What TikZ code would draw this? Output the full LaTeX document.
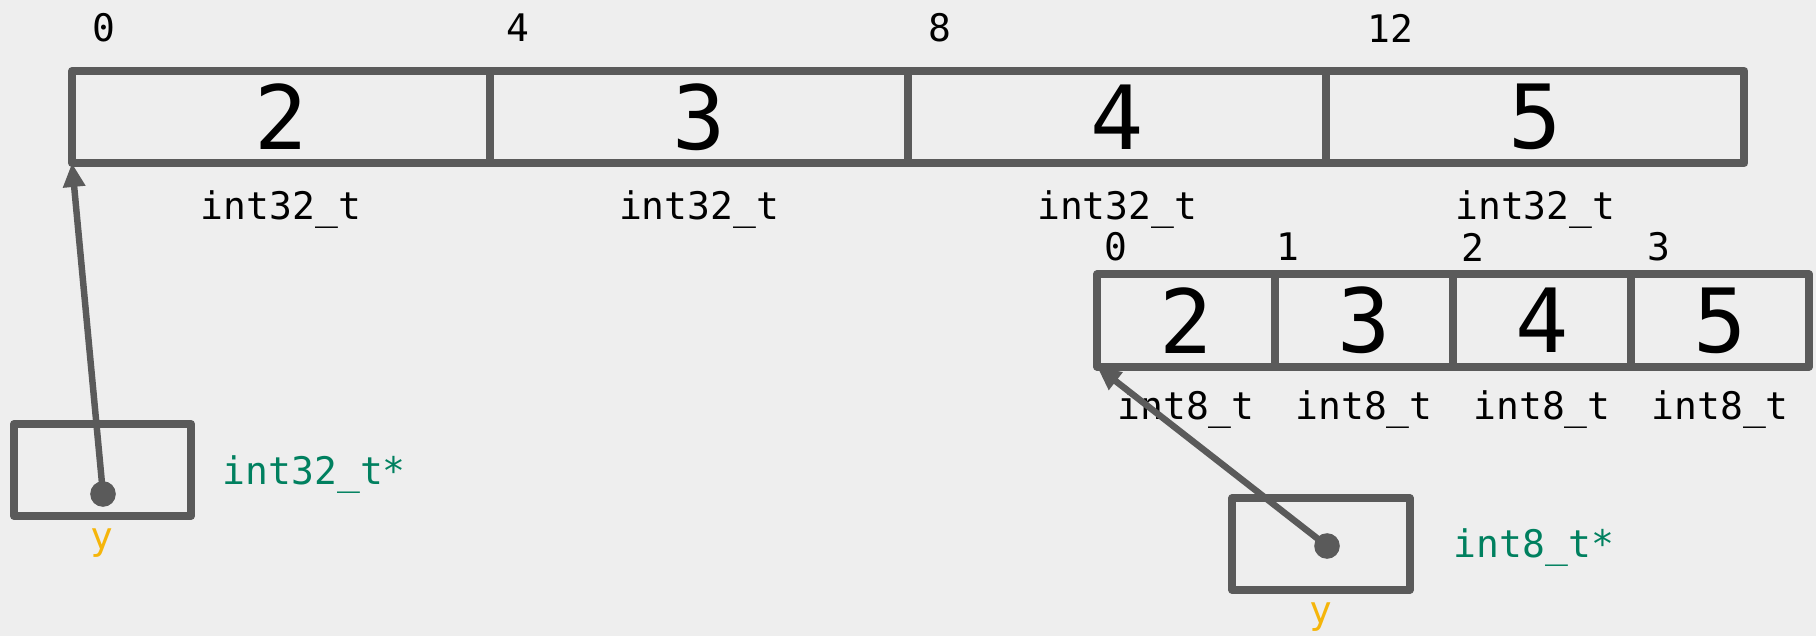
\documentclass[tikz,border=0pt]{standalone}
\usepackage{fontspec}
\setmonofont{DejaVu Sans Mono}
\usetikzlibrary{arrows.meta,positioning}
\definecolor{boxgray}{HTML}{5A5A5A}
\definecolor{bggray}{HTML}{EEEEEE}
\definecolor{ptrgreen}{HTML}{00805F}
\definecolor{varyellow}{HTML}{F5B50A}
\tikzset{
  cell/.style={
    draw=boxgray,
    line width=5.7pt,
    line join=round,
    outer sep=0pt,
    inner sep=0pt,
    minimum height=2.3cm,
    font=\ttfamily\fontsize{63}{70}\selectfont
  },
  cellw/.style={cell, minimum width=10.45cm},
  celln/.style={cell, minimum width=4.45cm},
  ptrbox/.style={
    draw=boxgray,
    line width=5.7pt,
    line join=round,
    minimum width=4.425cm,
    minimum height=2.3cm
  },
  dot/.style={
    shape=circle,
    fill=boxgray,
    inner sep=0pt,
    minimum size=0.64cm
  },
  ptr/.style={
    draw=boxgray,
    line width=4.6pt,
    -{Triangle[length=17pt,width=15pt]}
  },
  lbl/.style={font=\ttfamily\fontsize{27}{30}\selectfont}
}

\begin{document}
\begin{tikzpicture}[x=0.025cm,y=-0.025cm]
  \useasboundingbox[fill=bggray] (0,0) rectangle (1816,636);

  % four int32_t values
  \node[cellw] (a0) at (281,117) {2};
  \node[cellw,right=0pt of a0] (a1) {3};
  \node[cellw,right=0pt of a1] (a2) {4};
  \node[cellw,right=0pt of a2] (a3) {5};
  \node[lbl] (o0) at (104,28) {0};
  \node[lbl] (o4) at (518,28) {4};
  \node[lbl] (o8) at (940,28) {8};
  \node[lbl] (o12) at (1390,28) {12};
  \node[lbl] (t0) at (a0 |- 0,210) {int32\_t};
  \node[lbl] (t1) at (a1 |- 0,210) {int32\_t};
  \node[lbl] (t2) at (a2 |- 0,210) {int32\_t};
  \node[lbl] (t3) at (a3 |- 0,210) {int32\_t};

  % the same bytes as int8_t
  \node[celln] (b0) at (1186,320.5) {2};
  \node[celln,right=0pt of b0] (b1) {3};
  \node[celln,right=0pt of b1] (b2) {4};
  \node[celln,right=0pt of b2] (b3) {5};
  \node[lbl] (i0) at (1116,247) {0};
  \node[lbl] (i1) at (1288,247) {1};
  \node[lbl] (i2) at (1473,247) {2};
  \node[lbl] (i3) at (1659,247) {3};
  \node[lbl] (s0) at (b0 |- 0,410) {int8\_t};
  \node[lbl] (s1) at (b1 |- 0,410) {int8\_t};
  \node[lbl] (s2) at (b2 |- 0,410) {int8\_t};
  \node[lbl] (s3) at (b3 |- 0,410) {int8\_t};

  % pointers
  \node[ptrbox] (p32) at (102.5,470) {};
  \node[dot] (d32) at (103,494) {};
  \node[lbl,text=ptrgreen,anchor=west] (ty32) at (218,475) {int32\_t*};
  \node[lbl,text=varyellow] (y32) at (102,543) {y};
  \draw[ptr] (d32.center) -- (a0.south west);

  \node[ptrbox] (p8) at (1321,544) {};
  \node[dot] (d8) at (1327,546) {};
  \node[lbl,text=ptrgreen,anchor=west] (ty8) at (1449,548) {int8\_t*};
  \node[lbl,text=varyellow] (y8) at (1321,617) {y};
  \draw[ptr] (d8.center) -- (b0.south west);
\end{tikzpicture}
\end{document}
